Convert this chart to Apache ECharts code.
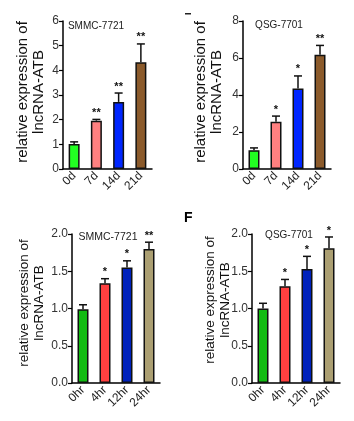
<!DOCTYPE html>
<html><head><meta charset="utf-8">
<script src="https://cdn.jsdelivr.net/npm/echarts@6/dist/echarts.min.js"></script>
<style>html,body{margin:0;padding:0;background:#fff}#c{width:354px;height:421px}</style>
</head><body><div id="c"></div>
<script>
// ---- data ----
const catsDay = ['0d', '7d', '14d', '21d'];
const catsHr = ['0hr', '4hr', '12hr', '24hr'];
const smmcDayMean = [1.01, 1.96, 2.72, 4.33];
const smmcDayErr = [0.09, 0.05, 0.36, 0.74];
const smmcDayStars = ['', '**', '**', '**'];
const qsgDayMean = [1.02, 2.56, 4.35, 6.18];
const qsgDayErr = [0.12, 0.3, 0.68, 0.5];
const qsgDayStars = ['', '*', '*', '**'];
const smmcHrMean = [0.99, 1.34, 1.55, 1.80];
const smmcHrErr = [0.06, 0.06, 0.09, 0.09];
const smmcHrStars = ['', '*', '*', '**'];
const qsgHrMean = [1.00, 1.30, 1.53, 1.81];
const qsgHrErr = [0.07, 0.09, 0.17, 0.15];
const qsgHrStars = ['', '*', '*', '*'];
const dayTicksMaxA = 6, dayTicksMaxB = 8, hrTicksMax = 2;
const colorsDay = ['#22ff22', '#ff8080', '#0026ff', '#8b5a2b'];
const colorsHr = ['#11bb11', '#ff4040', '#0022bb', '#ab9f72'];

const FONT = 'Arial, "Liberation Sans", sans-serif';
const chart = echarts.init(document.getElementById('c'), null, {renderer: 'canvas'});

const panels = [
  {cats: catsDay, mean: smmcDayMean, err: smmcDayErr, stars: smmcDayStars, colors: colorsDay, max: dayTicksMaxA, interval: 1, dec: 0,
   grid: {left: 63, top: 21, width: 89, height: 148}},
  {cats: catsDay, mean: qsgDayMean, err: qsgDayErr, stars: qsgDayStars, colors: colorsDay, max: dayTicksMaxB, interval: 2, dec: 0,
   grid: {left: 243, top: 21, width: 88, height: 148}},
  {cats: catsHr, mean: smmcHrMean, err: smmcHrErr, stars: smmcHrStars, colors: colorsHr, max: hrTicksMax, interval: 0.5, dec: 1,
   grid: {left: 72, top: 234, width: 88, height: 149}},
  {cats: catsHr, mean: qsgHrMean, err: qsgHrErr, stars: qsgHrStars, colors: colorsHr, max: hrTicksMax, interval: 0.5, dec: 1,
   grid: {left: 252, top: 234, width: 88, height: 149}}
];

const grids = [], xAxes = [], yAxes = [], series = [];
panels.forEach((p, k) => {
  grids.push(Object.assign({containLabel: false}, p.grid));
  xAxes.push({
    type: 'category', gridIndex: k, data: p.cats,
    axisLine: {lineStyle: {color: '#000', width: 1.5}},
    axisTick: {alignWithLabel: true, interval: 0, length: 4, lineStyle: {color: '#000', width: 1.2}},
    axisLabel: {interval: 0, rotate: 45, fontSize: 12, color: '#222', fontFamily: FONT, margin: 5, hideOverlap: false}
  });
  yAxes.push({
    type: 'value', gridIndex: k, min: 0, max: p.max, interval: p.interval,
    splitLine: {show: false},
    axisLine: {show: true, lineStyle: {color: '#000', width: 1.5}},
    axisTick: {show: true, length: 4, lineStyle: {color: '#000', width: 1.2}},
    axisLabel: {fontSize: 12, color: '#333', fontFamily: FONT, margin: 4,
      formatter: v => v.toFixed(p.dec)}
  });
  series.push({
    type: 'bar', xAxisIndex: k, yAxisIndex: k, barWidth: 11,
    data: p.mean.map((v, i) => ({value: v, itemStyle: {color: p.colors[i]}})),
    itemStyle: {borderColor: '#111', borderWidth: 1.5},
    z: 2
  });
  series.push({
    type: 'custom', xAxisIndex: k, yAxisIndex: k, z: 3,
    data: p.mean.map((v, i) => [i, v, v + p.err[i]]),
    renderItem: function (params, api) {
      const i = api.value(0);
      const b = api.coord([i, api.value(1)]);
      const t = api.coord([i, api.value(2)]);
      const st = {stroke: '#111', lineWidth: 1.5};
      return {type: 'group', children: [
        {type: 'line', shape: {x1: b[0], y1: b[1], x2: t[0], y2: t[1]}, style: st},
        {type: 'line', shape: {x1: t[0] - 4, y1: t[1], x2: t[0] + 4, y2: t[1]}, style: st},
        {type: 'text', x: t[0], y: t[1] - 1,
         style: {text: p.stars[params.dataIndex], fill: '#111', font: 'bold 11px ' + FONT,
                 textAlign: 'center', textVerticalAlign: 'bottom'}}
      ]};
    }
  });
});

const yTitle = (x, y, size, lh) => ({
  type: 'text', x: x, y: y, rotation: Math.PI / 2,
  style: {text: 'relative expression of\nlncRNA-ATB', fill: '#111', font: size + 'px ' + FONT,
          lineHeight: lh, textAlign: 'center', textVerticalAlign: 'middle'}
});
const pTitle = (x, y, txt, size) => ({
  type: 'text', x: x, y: y,
  style: {text: txt, fill: '#222', font: size + 'px ' + FONT, textAlign: 'center', textVerticalAlign: 'middle'}
});

chart.setOption({
  animation: false,
  grid: grids, xAxis: xAxes, yAxis: yAxes, series: series,
  graphic: [
    yTitle(30.5, 92, 15, 16),
    yTitle(208.5, 92, 15, 16),
    yTitle(32, 303, 13.5, 15),
    yTitle(218, 300, 13.5, 15),
    pTitle(96, 26, 'SMMC-7721', 10),
    pTitle(279, 25, 'QSG-7701', 10),
    pTitle(108, 237, 'SMMC-7721', 10.5),
    pTitle(289, 235, 'QSG-7701', 10),
    {type: 'text', x: 184, y: 211, style: {text: 'F', fill: '#000', font: 'bold 14px ' + FONT}},
    {type: 'rect', shape: {x: 185, y: 13, width: 6, height: 1.5}, style: {fill: '#222'}}
  ]
});
</script>
</body></html>
